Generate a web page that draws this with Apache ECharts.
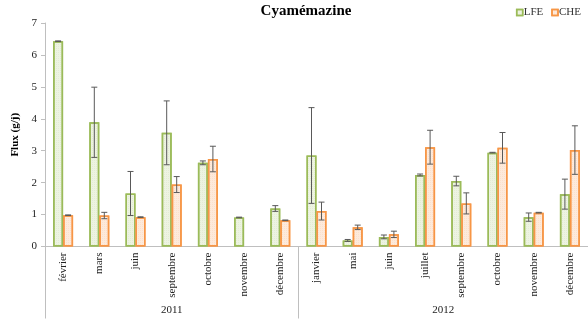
<!DOCTYPE html>
<html><head><meta charset="utf-8">
<script src="https://cdn.jsdelivr.net/npm/echarts@6/dist/echarts.min.js"></script>
<style>html,body{margin:0;padding:0;background:#fff}#c{width:588px;height:333px}</style>
</head><body><div id="c"></div>
<script>
const months = ['février','mars','juin','septembre','octobre','novembre','décembre','janvier','mai','juin','juillet','septembre','octobre','novembre','décembre'];
const years = ['2011','2012'];
const yearSpans = [7, 8];
const lfe = [6.43,3.89,1.66,3.56,2.62,0.91,1.19,2.85,0.19,0.30,2.24,2.05,2.94,0.92,1.64];
const lfeErr = [0.01,1.10,0.69,1.00,0.06,0.01,0.09,1.50,0.03,0.06,0.03,0.15,0.01,0.13,0.47];
const che = [0.98,0.97,0.92,1.94,2.74,null,0.82,1.11,0.60,0.38,3.11,1.35,3.09,1.06,3.02];
const cheErr = [0.01,0.10,0.01,0.25,0.40,null,0.01,0.28,0.07,0.10,0.53,0.33,0.48,0.01,0.76];
const yTicks = [0,1,2,3,4,5,6,7];

// half-step positions for the year axis (boundaryGap false)
const halfCats = [];
const yearLabelAt = {};
const yearTickAt = new Set([0]);
let pos = 0;
years.forEach((y, k) => {
  yearLabelAt[pos + yearSpans[k]] = y;
  pos += yearSpans[k] * 2;
  yearTickAt.add(pos);
});
for (let i = 0; i <= months.length * 2; i++) halfCats.push(yearLabelAt[i] || '');

const serif = '"Liberation Serif","DejaVu Serif",serif';
const greenB = '#9bbb59', greenF = '#edf3e2';
const orangeB = '#f79646', orangeF = '#fdeadc';
const half = 5;

function errData(vals, errs){
  return vals.map((v,i)=> v==null||errs[i]==null ? null : [i, v-errs[i], v+errs[i]]).filter(d=>d);
}
function errRender(off){
  return function(params, api){
    const idx = api.value(0);
    const x = api.coord([idx, 0])[0] + off;
    const yt = api.coord([idx, api.value(2)])[1];
    const yb = api.coord([idx, api.value(1)])[1];
    const st = {stroke:'#595959', lineWidth:1};
    return {type:'group', children:[
      {type:'line', shape:{x1:x,y1:yt,x2:x,y2:yb}, style:st},
      {type:'line', shape:{x1:x-3,y1:yt,x2:x+3,y2:yt}, style:st},
      {type:'line', shape:{x1:x-3,y1:yb,x2:x+3,y2:yb}, style:st}
    ]};
  };
}

const chart = echarts.init(document.getElementById('c'), null, {renderer:'canvas'});
chart.setOption({
  animation:false,
  title:{text:'Cyamémazine', left:301, textAlign:'center', top:-1,
    textStyle:{fontFamily:serif, fontWeight:'bold', fontSize:15, color:'#000'}},
  legend:{right:2, top:2, icon:'rect', itemWidth:6, itemHeight:6, itemGap:8,
    textStyle:{fontFamily:serif, fontSize:11, color:'#333', padding:[0,0,0,-4]},
    data:[{name:'LFE', itemStyle:{color:greenF, borderColor:greenB, borderWidth:1.5}},
          {name:'CHE', itemStyle:{color:orangeF, borderColor:orangeB, borderWidth:1.5}}]},
  grid:{left:45, right:0, top:23, bottom:86.5},
  xAxis:[{
    type:'category', data:months, position:'bottom',
    axisLine:{lineStyle:{color:'#bfbfbf'}},
    axisTick:{length:53, lineStyle:{color:'#bfbfbf'}},
    axisLabel:{rotate:90, interval:0, margin:6, fontFamily:serif, fontSize:11, color:'#222'}
  },{
    type:'category', data:halfCats, boundaryGap:false, position:'bottom',
    axisLine:{show:false},
    axisTick:{length:72, interval:(i)=>yearTickAt.has(i), lineStyle:{color:'#bfbfbf'}},
    axisLabel:{interval:(i)=>halfCats[i]!=='', margin:58, fontFamily:serif, fontSize:11, color:'#222'}
  }],
  yAxis:{type:'value', min:yTicks[0], max:yTicks[yTicks.length-1], interval:1,
    name:'Flux (g/j)', nameLocation:'middle', nameGap:21,
    nameTextStyle:{fontFamily:serif, fontWeight:'bold', fontSize:11, color:'#000'},
    axisLine:{show:true, lineStyle:{color:'#bfbfbf'}},
    axisTick:{show:true, length:4, lineStyle:{color:'#bfbfbf'}},
    axisLabel:{fontFamily:serif, fontSize:11, color:'#222', margin:8},
    splitLine:{show:false}},
  series:[
    {name:'LFE', type:'bar', data:lfe, barWidth:10, barGap:'0%',
      itemStyle:{color:greenF, borderColor:greenB, borderWidth:1.5,
        decal:{symbol:'rect', symbolSize:1, dashArrayX:[1,1], dashArrayY:[1,1], color:'rgba(155,187,89,0.10)'}}},
    {name:'CHE', type:'bar', data:che, barWidth:10, barGap:'0%',
      itemStyle:{color:orangeF, borderColor:orangeB, borderWidth:1.5,
        decal:{symbol:'rect', symbolSize:1, dashArrayX:[1,1], dashArrayY:[1,1], color:'rgba(247,150,70,0.10)'}}},
    {type:'custom', renderItem:errRender(-half), data:errData(lfe,lfeErr), z:5, silent:true},
    {type:'custom', renderItem:errRender(half), data:errData(che,cheErr), z:5, silent:true}
  ]
});
</script></body></html>
